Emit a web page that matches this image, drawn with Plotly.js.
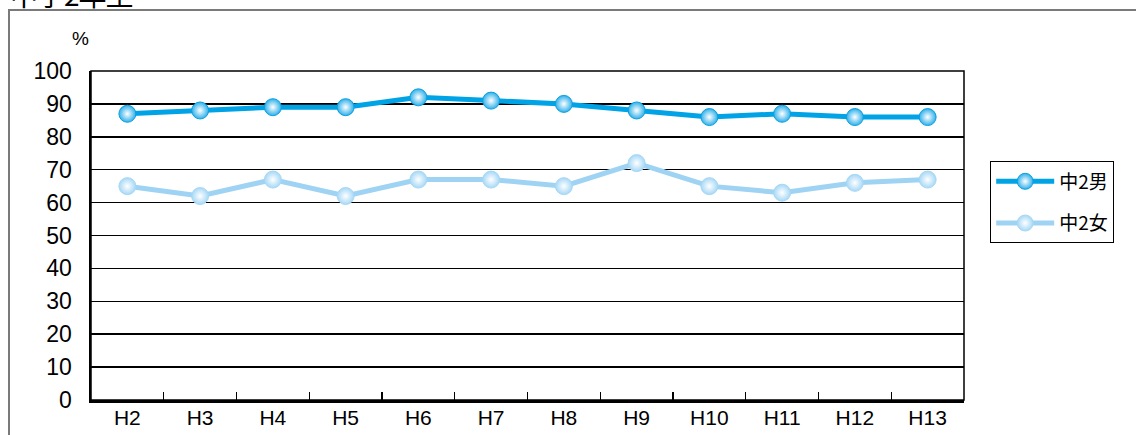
<!DOCTYPE html>
<html><head><meta charset="utf-8">
<script src="https://cdn.plot.ly/plotly-3.0.1.min.js"></script>
<style>
html,body{margin:0;padding:0;background:#fff;}
#wrap{position:relative;width:1136px;height:435px;overflow:hidden;}
#frame{position:absolute;left:8px;top:9px;width:1200px;height:500px;border-top:2px solid #7a7a7a;border-left:2px solid #7a7a7a;pointer-events:none;}
#ttl{position:absolute;left:10px;top:-26px;font-family:"Noto Sans CJK JP";font-size:28px;color:#000;letter-spacing:-1px;}
#chart{position:absolute;left:0;top:0;width:1136px;height:435px;}
</style></head>
<body><div id="wrap"><div id="ttl">中学2年生</div><div id="chart"></div><div id="frame"></div></div>
<script>
const years = ["H2","H3","H4","H5","H6","H7","H8","H9","H10","H11","H12","H13"];
const boys = [87,88,89,89,92,91,90,88,86,87,86,86];
const girls = [65,62,67,62,67,67,65,72,65,63,66,67];
const yTicks = [0,10,20,30,40,50,60,70,80,90,100];

const font = "Liberation Sans, Noto Sans CJK JP, sans-serif";
const traces = [
  {x: years, y: boys, name: "中2男", legendgroup: "a", type: "scatter", mode: "lines+markers",
   line: {color: "#00a3e6", width: 5},
   marker: {size: 17, color: "#2fb0ea", line: {color: "#0a9fe0", width: 1},
            gradient: {type: "radial", color: "#ffffff"}}},
  {x: years, y: girls, name: "中2女", legendgroup: "b", type: "scatter", mode: "lines+markers",
   line: {color: "#9fd3f3", width: 5},
   marker: {size: 17, color: "#a6d8f6", line: {color: "#a6d8f6", width: 1},
            gradient: {type: "radial", color: "#ffffff"}}}
];
const layout = {
  width: 1136, height: 435,
  margin: {l: 91, r: 172, t: 71, b: 35},
  paper_bgcolor: "rgba(0,0,0,0)", plot_bgcolor: "#fff",
  font: {family: font, color: "#000"},
  showlegend: true,
  legend: {x: 1.03, y: 0.725, xanchor: "left", yanchor: "top",
    bordercolor: "#000", borderwidth: 1, bgcolor: "#fff", traceorder: "grouped",
    font: {size: 19, family: "Noto Sans CJK JP"}, itemwidth: 58, tracegroupgap: 14},
  xaxis: {type: "category", range: [-0.5, 11.5], showline: true, linecolor: "#000", linewidth: 2.5,
    ticks: "inside", tickson: "boundaries", ticklen: 8, tickwidth: 1.2, tickcolor: "#000",
    showgrid: false, tickfont: {size: 21}, ticklabelstandoff: -3, fixedrange: true},
  yaxis: {range: [0, 100], tickvals: yTicks, showline: true, linecolor: "#000", linewidth: 2.5,
    showgrid: true, gridcolor: "#000", gridwidth: 1.5, zeroline: false,
    ticks: "", tickfont: {size: 23}, ticklabelstandoff: 12, fixedrange: true},
  shapes: [{type: "rect", xref: "paper", yref: "paper", x0: 0, x1: 1, y0: 0, y1: 1,
    line: {color: "#000", width: 1.5}}],
  annotations: [{text: "%", xref: "paper", yref: "paper", x: -0.012, y: 1.1,
    xanchor: "center", yanchor: "middle", showarrow: false, font: {size: 19}}]
};
Plotly.newPlot("chart", traces, layout, {displayModeBar: false, staticPlot: true});
</script></body></html>
